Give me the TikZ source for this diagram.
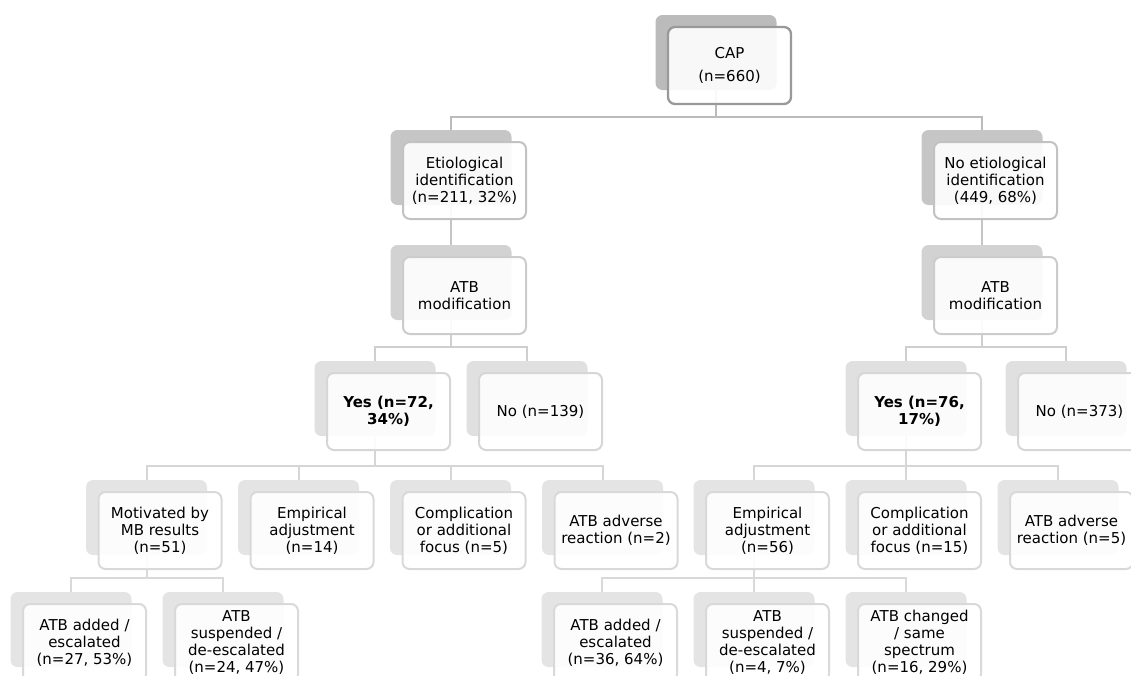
\documentclass[tikz,border=0pt]{standalone}
\usepackage{fontspec}
\setmainfont{DejaVu Sans}
\pgfdeclarelayer{bg}
\pgfsetlayers{bg,main}
\definecolor{sh0}{HTML}{BBBBBB}
\definecolor{sh1}{HTML}{C6C6C6}
\definecolor{sh2}{HTML}{D2D2D2}
\definecolor{sh3}{HTML}{E0E0E0}
\definecolor{sh4}{HTML}{E4E4E4}
\definecolor{fr0}{HTML}{999999}
\definecolor{fr1}{HTML}{C2C2C2}
\definecolor{fr2}{HTML}{CCCCCC}
\definecolor{fr3}{HTML}{D6D6D6}
\definecolor{fr4}{HTML}{D9D9D9}
\definecolor{ln0}{HTML}{BBBBBB}
\definecolor{ln1}{HTML}{C4C4C4}
\definecolor{ln2}{HTML}{CFCFCF}
\definecolor{ln3}{HTML}{D6D6D6}
\definecolor{ln4}{HTML}{D9D9D9}
\newcommand\tbox[6][]{%
  \node[shbox, fill=sh#5] (#2-s) at ({#3},{-#4-37.5}) {};
  \node[frbox, draw=fr#5, #1] (#2) at ({#3+13.5},{-#4-50.5}) {#6};}
\begin{document}
\begin{tikzpicture}[x=1pt,y=1pt,
  shbox/.style={rectangle, rounded corners=7pt, minimum width=121pt, minimum height=75pt,
    inner sep=0pt, outer sep=0pt, draw=none},
  frbox/.style={rectangle, rounded corners=7pt, minimum width=123pt, minimum height=77pt,
    inner sep=0pt, outer sep=0pt, line width=2pt, fill=white, fill opacity=0.9,
    text opacity=1, align=center, font=\fontsize{15}{17}\selectfont},
  boldtxt/.style={font=\fontsize{15}{17}\selectfont\bfseries},
  conn/.style={line width=2pt}]
\useasboundingbox (0,0) rectangle (1131,-675);
\clip (0,0) rectangle (1131,-675);
% level 0
\tbox[line width=2.3pt]{cap}{716}{15}{0}{CAP\\[6pt](n=660)}
% level 1
\tbox{etio}{451}{130}{1}{Etiological\\identification\\(n=211, 32\%)}
\tbox{noetio}{982}{130}{1}{No etiological\\identification\\(449, 68\%)}
% level 2
\tbox{atbL}{451}{245}{2}{ATB\\modification}
\tbox{atbR}{982}{245}{2}{ATB\\modification}
% level 3
\tbox[boldtxt]{yesL}{375}{361}{3}{Yes (n=72,\\34\%)}
\tbox{noL}{527}{361}{3}{No (n=139)}
\tbox[boldtxt]{yesR}{906}{361}{3}{Yes (n=76,\\17\%)}
\tbox{noR}{1066}{361}{3}{No (n=373)}
% level 4
\tbox{mot}{146.5}{480}{4}{Motivated by\\MB results\\(n=51)}
\tbox{emp14}{298.5}{480}{4}{Empirical\\adjustment\\(n=14)}
\tbox{comp5}{450.5}{480}{4}{Complication\\or additional\\focus (n=5)}
\tbox{adv2}{602.5}{480}{4}{ATB adverse\\reaction (n=2)}
\tbox{emp56}{754}{480}{4}{Empirical\\adjustment\\(n=56)}
\tbox{comp15}{906}{480}{4}{Complication\\or additional\\focus (n=15)}
\tbox{adv5}{1058}{480}{4}{ATB adverse\\reaction (n=5)}
% level 5
\tbox{add27}{71}{592}{4}{ATB added /\\escalated\\(n=27, 53\%)}
\tbox{susp24}{223}{592}{4}{ATB\\suspended /\\de-escalated\\(n=24, 47\%)}
\tbox{add36}{602}{592}{4}{ATB added /\\escalated\\(n=36, 64\%)}
\tbox{susp4}{754}{592}{4}{ATB\\suspended /\\de-escalated\\(n=4, 7\%)}
\tbox{chg16}{906}{592}{4}{ATB changed\\/ same\\spectrum\\(n=16, 29\%)}
% connectors
\begin{pgfonlayer}{bg}
\draw[conn, ln0] (cap-s.south) -- ++(0,-27) -| (etio-s.north);
\draw[conn, ln0] (cap-s.south) -- ++(0,-27) -| (noetio-s.north);
\draw[conn, ln1] (etio-s.south) -- (atbL-s.north);
\draw[conn, ln1] (noetio-s.south) -- (atbR-s.north);
\draw[conn, ln2] (atbL-s.south) -- ++(0,-27) -| (yesL-s.north);
\draw[conn, ln2] (atbL-s.south) -- ++(0,-27) -| (noL-s.north);
\draw[conn, ln2] (atbR-s.south) -- ++(0,-27) -| (yesR-s.north);
\draw[conn, ln2] (atbR-s.south) -- ++(0,-27) -| (noR-s.north);
\draw[conn, ln3] (yesL-s.south) -- ++(0,-30) -| (mot-s.north);
\draw[conn, ln3] (yesL-s.south) -- ++(0,-30) -| (emp14-s.north);
\draw[conn, ln3] (yesL-s.south) -- ++(0,-30) -| (comp5-s.north);
\draw[conn, ln3] (yesL-s.south) -- ++(0,-30) -| (adv2-s.north);
\draw[conn, ln3] (yesR-s.south) -- ++(0,-30) -| (emp56-s.north);
\draw[conn, ln3] (yesR-s.south) -- ++(0,-30) -| (comp15-s.north);
\draw[conn, ln3] (yesR-s.south) -- ++(0,-30) -| (adv5-s.north);
\draw[conn, ln4] (mot-s.south) -- ++(0,-23) -| (add27-s.north);
\draw[conn, ln4] (mot-s.south) -- ++(0,-23) -| (susp24-s.north);
\draw[conn, ln4] (emp56-s.south) -- ++(0,-23) -| (add36-s.north);
\draw[conn, ln4] (emp56-s.south) -- ++(0,-23) -| (susp4-s.north);
\draw[conn, ln4] (emp56-s.south) -- ++(0,-23) -| (chg16-s.north);
\end{pgfonlayer}
\end{tikzpicture}
\end{document}
